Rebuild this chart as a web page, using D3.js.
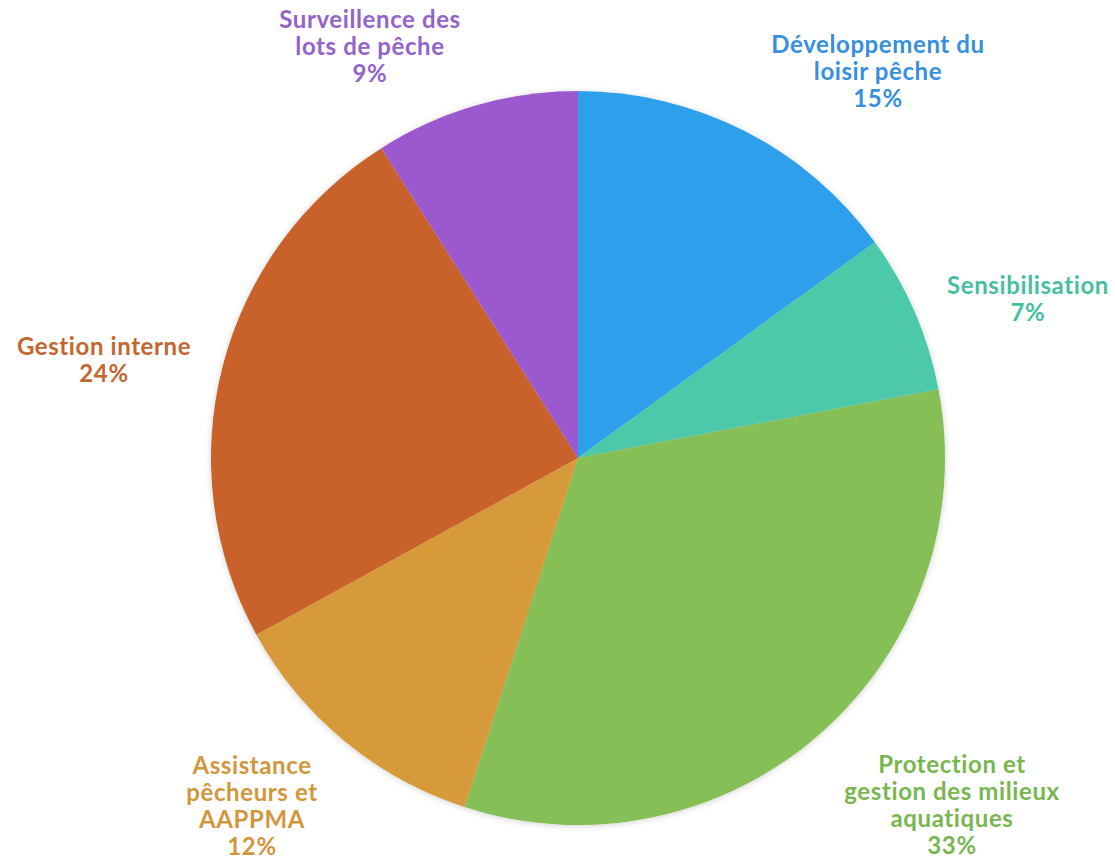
<!DOCTYPE html>
<html>
<head>
<meta charset="utf-8">
<script src="https://cdn.jsdelivr.net/npm/d3@7"></script>
<style>
  html, body { margin: 0; padding: 0; background: #fff; }
  svg text { font-family: Lato, "Open Sans", sans-serif; font-weight: 700; letter-spacing: 0.6px; }
</style>
</head>
<body>
<div id="chart"></div>
<script>
const categories = [
  'Développement du loisir pêche',
  'Sensibilisation',
  'Protection et gestion des milieux aquatiques',
  'Assistance pêcheurs et AAPPMA',
  'Gestion interne',
  'Surveillence des lots de pêche'
];
const values = [15, 7, 33, 12, 24, 9];
const labelLines = [
  ['Développement du', 'loisir pêche', '15%'],
  ['Sensibilisation', '7%'],
  ['Protection et', 'gestion des milieux', 'aquatiques', '33%'],
  ['Assistance', 'pêcheurs et', 'AAPPMA', '12%'],
  ['Gestion interne', '24%'],
  ['Surveillence des', 'lots de pêche', '9%']
];
const sliceColors = ['#2e9fea', '#4cc9a8', '#86bf55', '#d79a3a', '#c9622c', '#9b59cf'];
const textColors = ['#3690dc', '#45bf9f', '#7ab650', '#d2963b', '#c5652f', '#9462cb'];

const width = 1115, height = 861;
const cx = 578, cy = 458, radius = 367;
// label anchor (centre of the first line), per slice
const labelPos = [[878, 47], [1028, 288], [952, 767], [252, 768], [104, 349], [370, 22]];
const lineH = 27;

const svg = d3.select('#chart').append('svg')
  .attr('width', width)
  .attr('height', height);

const defs = svg.append('defs');
const f = defs.append('filter').attr('id', 'shadow')
  .attr('x', '-10%').attr('y', '-10%').attr('width', '120%').attr('height', '120%');
f.append('feDropShadow')
  .attr('dx', 0).attr('dy', 1).attr('stdDeviation', 3)
  .attr('flood-color', '#000').attr('flood-opacity', 0.18);

const pie = d3.pie().sort(null).value(d => d);
const arc = d3.arc().innerRadius(0).outerRadius(radius);

const g = svg.append('g')
  .attr('transform', `translate(${cx},${cy})`)
  .attr('filter', 'url(#shadow)');

g.selectAll('path')
  .data(pie(values))
  .join('path')
  .attr('d', arc)
  .attr('fill', (d, i) => sliceColors[i]);

const labels = svg.append('g').selectAll('text')
  .data(categories)
  .join('text')
  .attr('text-anchor', 'middle')
  .attr('fill', (d, i) => textColors[i])
  .attr('font-size', 24);

labels.each(function (d, i) {
  const t = d3.select(this);
  labelLines[i].forEach((line, j) => {
    t.append('tspan')
      .attr('x', labelPos[i][0])
      .attr('y', labelPos[i][1] + j * lineH)
      .attr('dominant-baseline', 'middle')
      .text(line);
  });
});
</script>
</body>
</html>
